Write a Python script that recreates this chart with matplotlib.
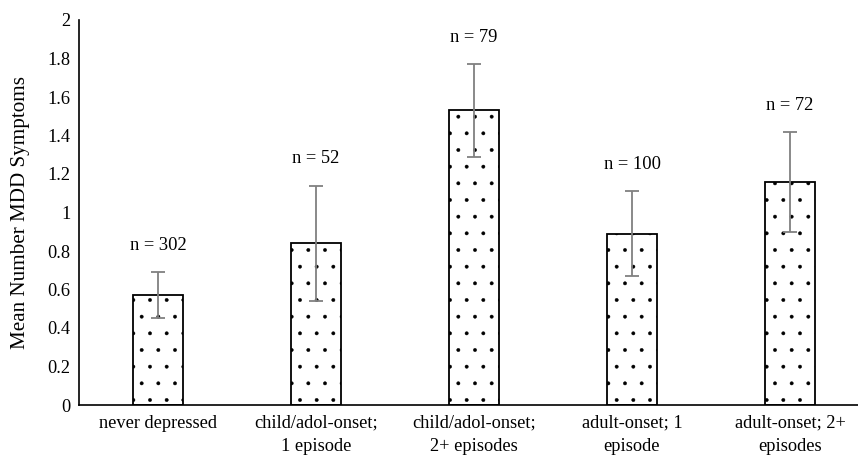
import numpy as np
import matplotlib.pyplot as plt

plt.rcParams['font.family'] = ['Liberation Serif', 'DejaVu Serif']
plt.rcParams['hatch.linewidth'] = 0.3
plt.rcParams['hatch.color'] = '#222222'

groups = ["never depressed", "child/adol-onset;\n1 episode", "child/adol-onset;\n2+ episodes",
          "adult-onset; 1\nepisode", "adult-onset; 2+\nepisodes"]
means = [0.57, 0.84, 1.53, 0.89, 1.16]
err = [0.12, 0.30, 0.24, 0.22, 0.26]
ns = [302, 52, 79, 100, 72]

fig = plt.figure(figsize=(8.58, 4.58), dpi=100)
ax = fig.add_axes([79/858, 53/458, 790/858, 385/458])

x = np.arange(len(groups))
ax.bar(x, means, width=0.32, color='white', edgecolor='black', hatch='.', linewidth=1.3)
ax.errorbar(x, means, yerr=err, fmt='none', ecolor='#808080', elinewidth=1.3, capsize=5, capthick=1.3)

for i in range(len(groups)):
    ax.annotate("n = %d" % ns[i], (x[i], means[i] + err[i]), xytext=(0, 13),
                textcoords='offset points', ha='center', va='bottom', fontsize=13.3)

ax.set_xlim(-0.5, 4.5)
ax.set_ylim(0, 2)
ax.set_yticks(np.arange(0, 2.01, 0.2))
ax.set_yticklabels(["0", "0.2", "0.4", "0.6", "0.8", "1", "1.2", "1.4", "1.6", "1.8", "2"])
ax.set_xticks(x)
ax.set_xticklabels(groups, fontsize=13.2, linespacing=1.5)
ax.tick_params(axis='both', length=0, labelsize=13.2)
ax.tick_params(axis='y', pad=6)
ax.tick_params(axis='x', pad=7)
ax.spines['top'].set_visible(False)
ax.spines['right'].set_visible(False)
ax.spines['left'].set_linewidth(1.2)
ax.spines['bottom'].set_linewidth(1.2)
ax.set_ylabel("Mean Number MDD Symptoms", fontsize=15.2)
ax.yaxis.set_label_coords(-0.062, 0.5)

fig.savefig("out.png", dpi=100)
